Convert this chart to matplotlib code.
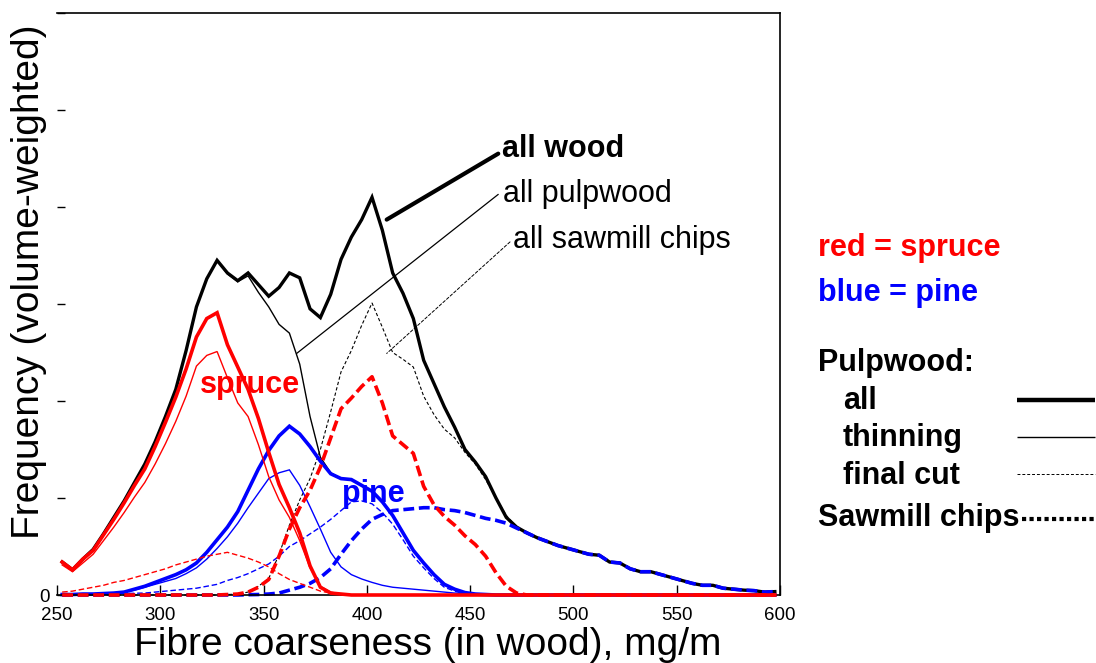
import numpy as np
import matplotlib
matplotlib.use("Agg")
import matplotlib.pyplot as plt
from matplotlib.lines import Line2D

plt.rcParams['font.family'] = ['Liberation Sans', 'DejaVu Sans']

# bin centres of fibre coarseness, mg/m
coarseness = np.arange(252.5, 600, 5)

# spruce (red)
spruce_all = [0.34, 0.26, 0.37, 0.46, 0.62, 0.78, 0.95, 1.13, 1.30, 1.53,
              1.78, 2.04, 2.33, 2.66, 2.85, 2.91, 2.58, 2.35, 2.12, 1.82,
              1.47, 1.14, 0.90, 0.64, 0.30, 0.08, 0.02, 0.01, 0, 0,
              0, 0, 0, 0, 0, 0, 0, 0, 0, 0,
              0, 0, 0, 0, 0, 0, 0, 0, 0, 0,
              0, 0, 0, 0, 0, 0, 0, 0, 0, 0,
              0, 0, 0, 0, 0, 0, 0, 0, 0, 0]
spruce_thinning = [0.31, 0.24, 0.33, 0.42, 0.56, 0.70, 0.85, 1.01, 1.16, 1.35,
                   1.56, 1.79, 2.05, 2.36, 2.47, 2.51, 2.24, 1.98, 1.84, 1.55,
                   1.22, 0.98, 0.80, 0.56, 0.28, 0.09, 0.03, 0.01, 0, 0,
                   0, 0, 0, 0, 0, 0, 0, 0, 0, 0,
                   0, 0, 0, 0, 0, 0, 0, 0, 0, 0,
                   0, 0, 0, 0, 0, 0, 0, 0, 0, 0,
                   0, 0, 0, 0, 0, 0, 0, 0, 0, 0]
spruce_final = [0.03, 0.04, 0.06, 0.08, 0.10, 0.13, 0.15, 0.18, 0.21, 0.24,
                0.27, 0.31, 0.34, 0.37, 0.40, 0.42, 0.44, 0.41, 0.38, 0.34,
                0.29, 0.22, 0.16, 0.12, 0.08, 0.04, 0.02, 0.01, 0, 0,
                0, 0, 0, 0, 0, 0, 0, 0, 0, 0,
                0, 0, 0, 0, 0, 0, 0, 0, 0, 0,
                0, 0, 0, 0, 0, 0, 0, 0, 0, 0,
                0, 0, 0, 0, 0, 0, 0, 0, 0, 0]
spruce_chips = [0, 0, 0, 0, 0, 0, 0, 0, 0, 0,
                0, 0, 0, 0, 0, 0, 0.005, 0.01, 0.03, 0.08,
                0.16, 0.40, 0.68, 0.90, 1.08, 1.32, 1.62, 1.92, 2.03, 2.15,
                2.25, 1.98, 1.64, 1.55, 1.46, 1.12, 0.93, 0.81, 0.72, 0.61,
                0.52, 0.40, 0.23, 0.09, 0.02, 0, 0, 0, 0, 0,
                0, 0, 0, 0, 0, 0, 0, 0, 0, 0,
                0, 0, 0, 0, 0, 0, 0, 0, 0, 0]

# pine (blue)
pine_all = [0.005, 0.005, 0.01, 0.01, 0.015, 0.02, 0.03, 0.06, 0.09, 0.13,
            0.17, 0.21, 0.26, 0.33, 0.44, 0.57, 0.70, 0.86, 1.08, 1.30,
            1.49, 1.64, 1.74, 1.66, 1.53, 1.38, 1.25, 1.20, 1.19, 1.13,
            1.07, 0.96, 0.82, 0.64, 0.46, 0.33, 0.21, 0.11, 0.06, 0.025,
            0.01, 0.005, 0, 0, 0, 0, 0, 0, 0, 0,
            0, 0, 0, 0, 0, 0, 0, 0, 0, 0,
            0, 0, 0, 0, 0, 0, 0, 0, 0, 0]
pine_thinning = [0.005, 0.005, 0.01, 0.01, 0.015, 0.02, 0.03, 0.05, 0.08, 0.11,
                 0.14, 0.17, 0.22, 0.28, 0.37, 0.48, 0.60, 0.74, 0.90, 1.05,
                 1.20, 1.26, 1.29, 1.13, 0.91, 0.68, 0.44, 0.29, 0.21, 0.165,
                 0.13, 0.10, 0.08, 0.07, 0.06, 0.05, 0.04, 0.03, 0.02, 0.015,
                 0.01, 0.005, 0, 0, 0, 0, 0, 0, 0, 0,
                 0, 0, 0, 0, 0, 0, 0, 0, 0, 0,
                 0, 0, 0, 0, 0, 0, 0, 0, 0, 0]
pine_final = [0.003, 0.004, 0.005, 0.007, 0.01, 0.012, 0.015, 0.018, 0.02, 0.03,
              0.04, 0.05, 0.06, 0.07, 0.09, 0.11, 0.15, 0.18, 0.22, 0.27,
              0.32, 0.40, 0.50, 0.56, 0.63, 0.70, 0.78, 0.87, 0.96, 0.97,
              0.94, 0.85, 0.73, 0.57, 0.40, 0.28, 0.17, 0.08, 0.04, 0.01,
              0.005, 0, 0, 0, 0, 0, 0, 0, 0, 0,
              0, 0, 0, 0, 0, 0, 0, 0, 0, 0,
              0, 0, 0, 0, 0, 0, 0, 0, 0, 0]
pine_chips = [0, 0, 0, 0, 0, 0, 0, 0, 0, 0,
              0, 0, 0, 0, 0, 0, 0, 0, 0.003, 0.005,
              0.01, 0.02, 0.05, 0.08, 0.12, 0.18, 0.27, 0.42, 0.56, 0.68,
              0.78, 0.83, 0.87, 0.88, 0.89, 0.90, 0.90, 0.88, 0.87, 0.85,
              0.82, 0.79, 0.77, 0.74, 0.69, 0.64, 0.59, 0.55, 0.51, 0.48,
              0.45, 0.42, 0.41, 0.34, 0.33, 0.27, 0.24, 0.24, 0.21, 0.18,
              0.15, 0.12, 0.10, 0.10, 0.07, 0.06, 0.05, 0.045, 0.03, 0.035]

# totals (black)
all_wood = [0.34, 0.26, 0.37, 0.47, 0.63, 0.80, 0.97, 1.16, 1.35, 1.58,
            1.84, 2.12, 2.52, 2.97, 3.26, 3.45, 3.32, 3.24, 3.32, 3.20,
            3.08, 3.17, 3.32, 3.27, 2.95, 2.86, 3.10, 3.46, 3.69, 3.87,
            4.10, 3.76, 3.32, 3.11, 2.85, 2.42, 2.18, 1.94, 1.73, 1.50,
            1.37, 1.22, 1.00, 0.80, 0.70, 0.64, 0.59, 0.55, 0.51, 0.48,
            0.45, 0.42, 0.41, 0.34, 0.33, 0.27, 0.24, 0.24, 0.21, 0.18,
            0.15, 0.12, 0.10, 0.10, 0.07, 0.06, 0.05, 0.045, 0.03, 0.035]
all_pulpwood = [0.34, 0.26, 0.37, 0.47, 0.63, 0.80, 0.97, 1.16, 1.35, 1.58,
                1.84, 2.12, 2.52, 2.97, 3.26, 3.45, 3.31, 3.23, 3.29, 3.12,
                2.97, 2.79, 2.70, 2.38, 1.84, 1.42, 1.26, 1.20, 1.19, 1.13,
                1.07, 0.96, 0.82, 0.64, 0.46, 0.33, 0.21, 0.11, 0.06, 0.025,
                0.01, 0.005, 0, 0, 0, 0, 0, 0, 0, 0,
                0, 0, 0, 0, 0, 0, 0, 0, 0, 0,
                0, 0, 0, 0, 0, 0, 0, 0, 0, 0]
all_chips = [0, 0, 0, 0, 0, 0, 0, 0, 0, 0,
             0, 0, 0, 0, 0, 0, 0.005, 0.01, 0.03, 0.09,
             0.17, 0.42, 0.72, 0.98, 1.20, 1.50, 1.89, 2.30, 2.52, 2.78,
             3.01, 2.76, 2.50, 2.43, 2.35, 2.05, 1.86, 1.71, 1.62, 1.47,
             1.35, 1.19, 1.00, 0.82, 0.70, 0.64, 0.59, 0.55, 0.51, 0.48,
             0.45, 0.42, 0.41, 0.34, 0.33, 0.27, 0.24, 0.24, 0.21, 0.18,
             0.15, 0.12, 0.10, 0.10, 0.07, 0.06, 0.05, 0.045, 0.03, 0.035]

x_ticks = [250, 300, 350, 400, 450, 500, 550, 600]
y_ticks = [0, 1, 2, 3, 4, 5, 6]
y_tick_labels = ['0', '', '', '', '', '', '']

THICK = 2.6
THIN = 1.0
BIGDASH = (0, (3.0, 1.3))
SMALLDASH = (0, (4, 2))

fig = plt.figure(figsize=(10.96, 6.63), dpi=100)
ax = fig.add_axes([57/1096, 68/663, 723/1096, 582/663])

kw = dict(clip_on=False, solid_joinstyle='miter')
# black totals
ax.plot(coarseness, all_pulpwood, color='black', lw=THIN, zorder=1, **kw)
ax.plot(coarseness, all_chips, color='black', lw=0.8, ls=(0, (3, 2)), zorder=1, **kw)
ax.plot(coarseness, all_wood, color='black', lw=2.4, zorder=1.5, **kw)
# pine
ax.plot(coarseness, pine_thinning, color='#0000ff', lw=THIN, zorder=2, **kw)
ax.plot(coarseness, pine_final, color='#0000ff', lw=THIN, ls=SMALLDASH, zorder=2, **kw)
ax.plot(coarseness, pine_all, color='#0000ff', lw=THICK, zorder=2, **kw)
ax.plot(coarseness, pine_chips, color='#0000ff', lw=THICK, ls=BIGDASH, zorder=2, **kw)
# spruce
ax.plot(coarseness, spruce_thinning, color='#ff0000', lw=THIN, zorder=3, **kw)
ax.plot(coarseness, spruce_final, color='#ff0000', lw=THIN, ls=SMALLDASH, zorder=3, **kw)
ax.plot(coarseness, spruce_all, color='#ff0000', lw=THICK, zorder=3, **kw)
ax.plot(coarseness, spruce_chips, color='#ff0000', lw=THICK, ls=BIGDASH, zorder=3, **kw)

ax.set_xlim(250, 600)
ax.set_ylim(0, 6)
ax.set_xticks(x_ticks)
ax.set_xticklabels([str(t) for t in x_ticks], fontsize=13.5)
ax.set_yticks(y_ticks)
ax.set_yticklabels(y_tick_labels, fontsize=13.5)
ax.tick_params(axis='x', direction='in', length=7, width=1, pad=9)
ax.tick_params(axis='y', direction='in', length=6, width=1, pad=5)
ax.spines['left'].set_visible(False)
for s in ['top', 'right', 'bottom']:
    ax.spines[s].set_linewidth(1.2)

# curve names inside the plot
ax.text(319.2, 2.085, 'spruce', color='#ff0000', fontsize=22, fontweight='bold', va='baseline', zorder=5)
ax.text(387.8, 0.96, 'pine', color='#0000ff', fontsize=22, fontweight='bold', va='baseline', zorder=5)

ax.text(465.4, 4.52, 'all wood', fontsize=22, fontweight='bold', va='baseline')
ax.text(465.9, 4.055, 'all pulpwood', fontsize=22, va='baseline')
ax.text(470.7, 3.58, 'all sawmill chips', fontsize=22, va='baseline')
ax.annotate('', xy=(409.6, 3.87), xytext=(463.6, 4.55),
            arrowprops=dict(arrowstyle='-', color='black', lw=3, shrinkA=0, shrinkB=0))
ax.annotate('', xy=(366.0, 2.49), xytext=(463.6, 4.13),
            arrowprops=dict(arrowstyle='-', color='black', lw=0.9, shrinkA=0, shrinkB=0))
ax.annotate('', xy=(409.6, 2.49), xytext=(469.3, 3.64),
            arrowprops=dict(arrowstyle='-', color='black', lw=0.7, ls=(0, (3, 2)),
                            shrinkA=0, shrinkB=0))

# axis titles
fig.text(29/1096, 1 - 282/663, 'Frequency (volume-weighted)', rotation=90,
         fontsize=28, ha='center', va='center')
fig.text(428/1096, 1 - 655/663, 'Fibre coarseness (in wood), mg/m',
         fontsize=28, ha='center', va='baseline')

# key on the right
fig.text(818/1096, 1 - 256/663, 'red = spruce', color='#ff0000', fontsize=22, fontweight='bold', va='baseline')
fig.text(818/1096, 1 - 301/663, 'blue = pine', color='#0000ff', fontsize=22, fontweight='bold', va='baseline')
fig.text(818/1096, 1 - 371/663, 'Pulpwood:', fontsize=22, fontweight='bold', va='baseline')
fig.text(843/1096, 1 - 409/663, 'all', fontsize=22, fontweight='bold', va='baseline')
fig.text(843/1096, 1 - 446/663, 'thinning', fontsize=22, fontweight='bold', va='baseline')
fig.text(843/1096, 1 - 484/663, 'final cut', fontsize=22, fontweight='bold', va='baseline')
fig.text(818/1096, 1 - 526/663, 'Sawmill chips', fontsize=22, fontweight='bold', va='baseline')

key_lines = [
    ([1017, 1095], 400, 3.2, '-'),
    ([1017, 1095], 437, 1.0, '-'),
    ([1017, 1095], 474, 0.7, (0, (3, 2))),
    ([1022, 1095], 519, 3.0, (0, (1, 0.8))),
]
for xs, yp, lw, ls in key_lines:
    fig.add_artist(Line2D([xs[0]/1096, xs[1]/1096], [1 - yp/663, 1 - yp/663],
                          transform=fig.transFigure, color='black', lw=lw, ls=ls,
                          solid_capstyle='butt', dash_capstyle='butt'))

fig.savefig('out.png', dpi=100)
